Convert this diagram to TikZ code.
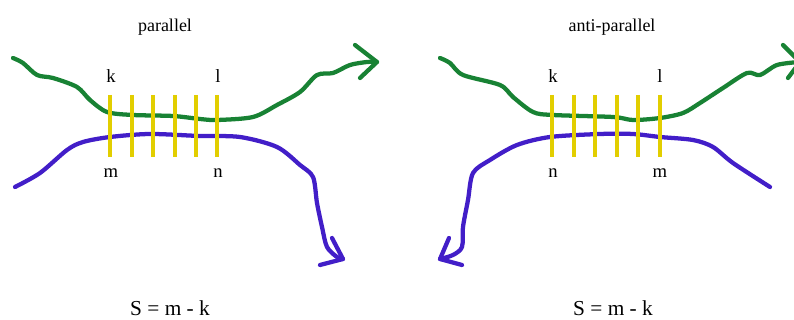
\documentclass[tikz,border=0pt]{standalone}
\usepackage{fontspec}
\setmainfont{Liberation Serif}
\definecolor{strandgreen}{RGB}{24,130,52}
\definecolor{strandblue}{RGB}{66,30,200}
\definecolor{baryellow}{RGB}{226,206,0}
\tikzset{
  strandG/.style={strandgreen,line width=3.2pt,line cap=round,line join=round},
  strandB/.style={strandblue,line width=3.2pt,line cap=round,line join=round},
  bar/.style={baryellow,line width=3pt},
  lbl/.style={anchor=base,inner sep=0pt,font=\fontsize{14}{16}\selectfont},
  title/.style={anchor=base,inner sep=0pt,font=\fontsize{13.5}{15}\selectfont},
  formula/.style={anchor=base,inner sep=0pt,font=\fontsize{16}{18}\selectfont},
}
\begin{document}
\begin{tikzpicture}[x=0.75pt,y=-0.75pt]
\useasboundingbox (0,0) rectangle (794,320);
\begin{scope}
\clip (0,0) rectangle (794,320);
% ---------- left: parallel ----------
\draw[strandG] plot[smooth,tension=0.5] coordinates {(13,58) (23,63) (37,75) (53,78) (77,87) (90,100) (107,112) (133,115) (173,116) (200,119) (217,120) (253,117) (277,105) (300,92) (317,75) (333,73) (350,65) (367,62) (377,62)};
\draw[strandG] (355,45) -- (377,62) -- (360,78);
\draw[strandB] plot[smooth,tension=0.5] coordinates {(15,187) (40,173) (67,150) (83,142) (110,137) (150,134) (200,136) (240,137) (277,147) (300,165) (313,177) (317,203) (322,227) (327,247) (337,257) (343,259)};
\draw[strandB] (332,238) -- (343,259) -- (320,265);
\foreach \x in {110,131.5,153,174.5,196,217}
  \draw[bar] (\x,95) -- (\x,157);
% ---------- right: anti-parallel ----------
\draw[strandG] plot[smooth,tension=0.5] coordinates {(440,58) (450,63) (463,75) (500,85) (513,97) (533,112) (553,115) (613,117) (633,120) (660,118) (683,113) (700,103) (723,88) (747,73) (760,75) (777,65) (799,62)};
\draw[strandG] (783,45) -- (800,62) -- (788,78);
\draw[strandB] plot[smooth,tension=0.5] coordinates {(770,187) (733,163) (713,147) (693,140) (660,137) (633,134) (600,134) (550,137) (517,145) (490,160) (473,173) (468,200) (463,227) (462,247) (453,255) (440,259)};
\draw[strandB] (449,238) -- (440,259) -- (462,265);
\foreach \x in {552,573.5,595,616.5,638,659.5}
  \draw[bar] (\x,95) -- (\x,157);
\end{scope}
% ---------- texts ----------
\node[title] (t1) at (165,32) {parallel};
\node[title] (t2) at (612,32) {anti-parallel};
\node[lbl] (k1) at (111,83) {k};
\node[lbl] (l1) at (218,83) {l};
\node[lbl] (m1) at (111,178) {m};
\node[lbl] (n1) at (218,178) {n};
\node[lbl] (k2) at (553,83) {k};
\node[lbl] (l2) at (660,83) {l};
\node[lbl] (n2) at (553,178) {n};
\node[lbl] (m2) at (660,178) {m};
\node[formula] (s1) at (170,316) {S = m - k};
\node[formula] (s2) at (613,316) {S = m - k};
\end{tikzpicture}
\end{document}
